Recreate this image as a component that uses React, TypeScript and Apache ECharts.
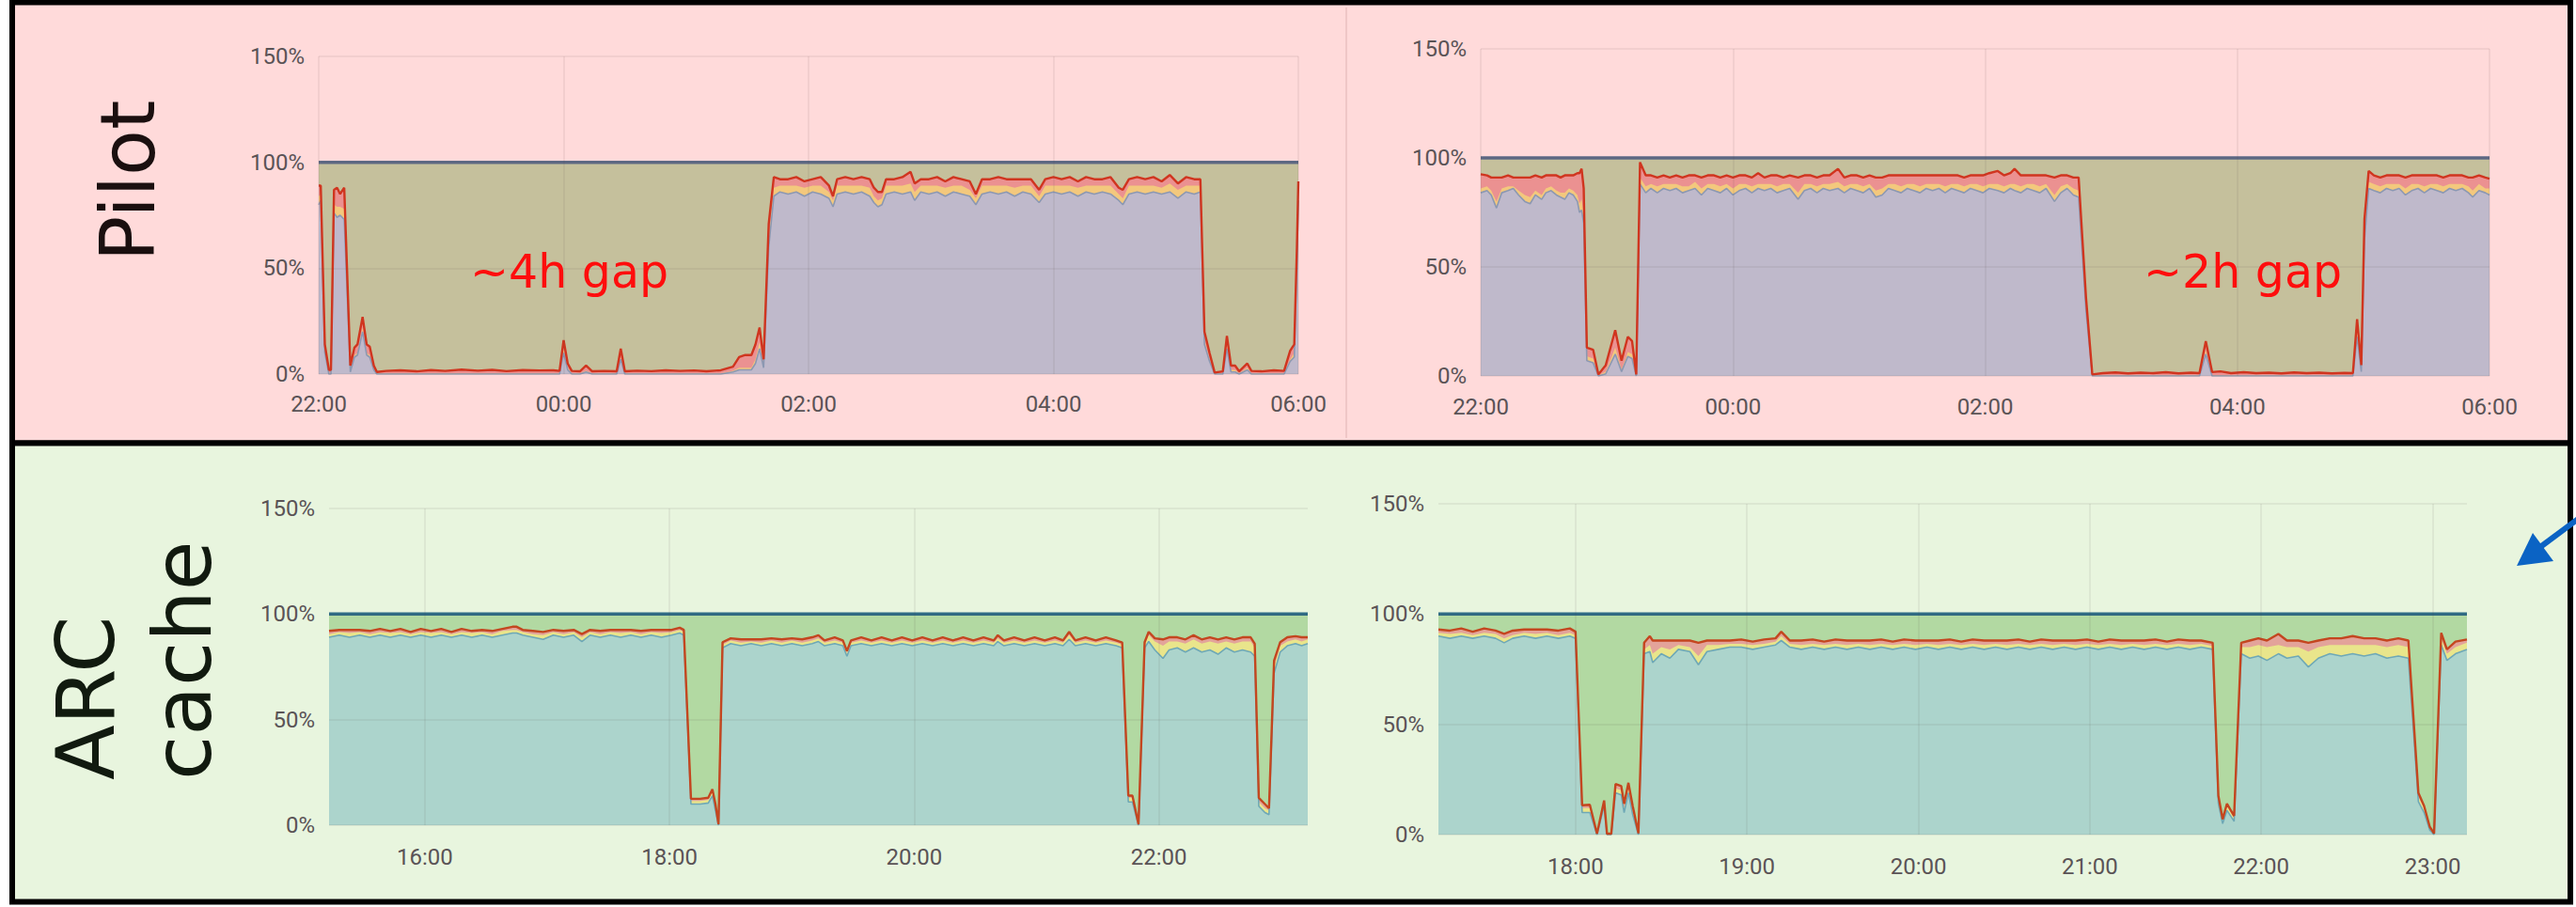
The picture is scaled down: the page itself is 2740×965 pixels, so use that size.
import React, { useEffect, useRef } from 'react';
import * as echarts from 'echarts';

// rows: [minutes after chart start, user %, iowait %, system %]  (idle fills to 100 %)
const pilotNight1Start = '22:00';
const pilotNight1 = [
  [0, 80, 4, 5], [1, 82, 3, 4], [3, 10, 1, 3], [5, 0, 0.5, 1.5], [6, 0, 0.5, 1.5],
  [7.5, 76, 4, 7], [9, 74, 5, 9], [10.5, 75, 4, 6], [12.5, 73, 5, 10], [15.5, 1, 1, 2],
  [17.5, 8, 1, 3.5], [19, 9, 1, 4], [21.5, 20, 2, 5], [23.5, 9, 1, 4], [25, 8, 1, 4],
  [27, 2, 0.5, 1.5], [28.5, 0, 0.3, 0.7], [33, 0, 0.3, 1.2], [40, 0, 0.3, 1.5], [48, 0, 0.3, 1.0],
  [55, 0, 0.3, 1.6], [62, 0, 0.3, 1.2], [70, 0, 0.3, 1.8], [78, 0, 0.3, 1.3], [85, 0, 0.3, 1.7],
  [92, 0, 0.3, 1.1], [100, 0, 0.3, 1.6], [108, 0, 0.3, 1.4], [115, 0, 0.3, 1.5], [118, 0, 0.3, 1.2],
  [120, 10, 2, 4], [122, 2, 1, 2], [124, 0, 0.3, 1.2], [128, 0, 0.3, 1.0], [131, 1, 0.5, 2.5],
  [134, 0, 0.3, 1.0], [140, 0, 0.3, 1.2], [146, 0, 0.3, 1.0], [148, 7, 1, 4], [150, 0, 0.3, 1.0],
  [156, 0, 0.3, 1.3], [163, 0, 0.3, 1.1], [170, 0, 0.3, 1.5], [177, 0, 0.3, 1.2], [184, 0, 0.3, 1.4],
  [190, 0, 0.3, 1.0], [197, 0, 0.3, 1.5], [203, 1, 0.5, 2], [206, 2, 1, 5], [209, 2, 1, 6],
  [212, 2, 1, 6], [214, 5, 2, 7], [216, 12, 3, 7], [218, 3, 1, 3], [220.5, 60, 4, 7],
  [223, 84, 4, 5], [226, 86, 3, 3], [230, 85, 4, 3], [234, 86, 3, 4], [238, 84, 4, 3],
  [242, 86, 3, 3], [246, 85, 4, 4], [250, 83, 3, 3], [252, 79, 3, 2], [254, 85, 4, 3],
  [258, 86, 3, 4], [262, 85, 4, 3], [266, 86, 3, 4], [270, 84, 4, 4], [272, 81, 3, 4],
  [274, 79, 3, 4], [276, 80, 3, 3], [278, 85, 4, 3], [282, 86, 3, 3], [286, 85, 4, 4],
  [290, 86, 4, 5.5], [292, 82, 4, 4], [295, 86, 3, 3], [299, 85, 4, 3], [303, 86, 3, 4],
  [307, 84, 4, 3], [311, 86, 3, 4], [315, 85, 4, 3], [319, 84, 3, 4], [322, 80, 3, 2],
  [325, 85, 4, 3], [329, 86, 3, 3], [333, 85, 4, 4], [337, 86, 3, 3], [341, 84, 4, 4],
  [345, 86, 3, 3], [349, 85, 4, 3], [353, 81, 3, 3], [356, 85, 4, 3], [360, 86, 3, 4],
  [364, 85, 4, 3], [368, 86, 3, 4], [372, 84, 4, 3], [376, 86, 3, 4], [380, 85, 4, 3],
  [384, 86, 3, 3], [388, 85, 4, 4], [392, 82, 3, 3], [394, 80, 3, 4], [397, 85, 4, 3],
  [401, 86, 3, 4], [405, 85, 4, 3], [409, 86, 3, 4], [413, 85, 3, 3], [417, 86, 4, 4],
  [421, 83, 4, 3], [425, 86, 3, 4], [429, 85, 4, 3], [432, 86, 3, 3], [434, 14, 2, 4],
  [436.5, 6, 1, 3], [439, 0, 0.2, 0.5], [443, 0, 0.3, 1.0], [445, 12, 2, 4], [447, 1, 1, 2],
  [449, 1, 1, 2], [451, 0, 0.3, 1.0], [455, 2, 1, 2], [457, 0, 0.3, 1.2], [462, 0, 0.3, 1.0],
  [468, 0, 0.3, 1.5], [473, 0, 0.3, 1.2], [476, 6, 1, 4], [478, 8, 2, 4], [479.3, 50, 4, 6],
  [480, 82, 4, 5],
];

const pilotNight2Start = '22:00';
const pilotNight2 = [
  [0, 84, 2, 6.5], [3, 85, 2, 5], [5, 83, 2, 6], [7.5, 77, 3, 11], [10, 84, 2, 5],
  [13, 85, 2, 5], [15.5, 86, 1, 4], [18, 83, 2, 6], [21, 80, 3, 8], [23.5, 79, 3, 9],
  [26, 83, 2, 7], [29, 81, 2, 8], [31, 84, 2, 6], [33.5, 85, 2, 5], [36, 83, 2, 7],
  [38, 82, 2, 7], [40, 81, 3, 8], [42, 84, 2, 6], [44, 83, 2, 7], [46, 80, 3, 10],
  [47, 75, 4, 14], [48, 76, 5, 14], [49, 70, 4, 12], [50.5, 7, 2, 4], [53.5, 6, 2, 4],
  [56, 0, 0.2, 0.5], [59.5, 1, 1, 3], [64, 10, 3, 8], [67, 2, 1, 4], [70, 9, 2, 7],
  [72, 8, 2, 6], [74, 0, 0.2, 0.5], [75.8, 88, 3, 7], [78.5, 84, 3, 5], [81, 86, 2, 4],
  [84, 84, 3, 4], [87, 86, 2, 4], [90, 85, 3, 3], [93, 86, 2, 4], [96, 84, 3, 4],
  [99, 85, 2, 5], [102, 86, 3, 3], [105, 83, 3, 5], [108, 86, 2, 4], [111, 85, 3, 4],
  [114, 84, 3, 4], [117, 86, 2, 4], [120, 83, 3, 5], [123, 85, 3, 4], [126, 86, 2, 4],
  [129, 84, 3, 4], [132, 86, 2, 5], [135, 85, 3, 3], [138, 86, 2, 4], [141, 84, 3, 5],
  [144, 85, 3, 3], [147, 86, 2, 4], [151, 81, 3, 7], [154, 85, 3, 4], [157, 86, 2, 4],
  [160, 84, 3, 4], [163, 86, 2, 4], [166, 85, 3, 4], [170, 86, 3, 6], [173, 84, 3, 4],
  [176, 86, 2, 4], [179, 85, 3, 4], [182, 84, 3, 4], [185, 86, 2, 4], [188, 82, 3, 6],
  [191, 83, 3, 5], [194, 86, 2, 4], [197, 85, 3, 4], [200, 84, 3, 5], [203, 86, 2, 4],
  [206, 85, 3, 4], [209, 84, 3, 5], [212, 86, 2, 4], [215, 85, 3, 4], [218, 86, 2, 4],
  [221, 84, 3, 5], [224, 86, 2, 4], [227, 85, 3, 4], [230, 84, 3, 4], [233, 86, 2, 4],
  [236, 85, 3, 4], [239, 84, 3, 5], [242, 86, 2, 5], [246, 85, 3, 6], [249, 84, 3, 5],
  [252, 86, 2, 5], [254, 85, 3, 7], [257, 84, 3, 5], [260, 86, 2, 4], [263, 85, 3, 4],
  [266, 84, 3, 5], [269, 86, 2, 4], [273, 80, 3, 8], [276, 84, 3, 5], [279, 86, 2, 4],
  [282, 83, 3, 5], [284.5, 82, 3, 6], [288, 30, 2, 4], [291, 0, 0.2, 0.5], [296, 0, 0.3, 1.0],
  [302, 0, 0.3, 1.3], [308, 0, 0.3, 0.9], [314, 0, 0.3, 1.2], [320, 0, 0.3, 1.0], [326, 0, 0.3, 1.4],
  [332, 0, 0.3, 0.9], [338, 0, 0.3, 1.2], [342, 0, 0.3, 1.0], [345, 10, 2, 4], [348, 0, 0.3, 1.5],
  [352, 0, 0.3, 1.8], [357, 0, 0.3, 1.0], [363, 0, 0.3, 1.4], [369, 0, 0.3, 1.0], [375, 0, 0.3, 1.2],
  [381, 0, 0.3, 0.9], [387, 0, 0.3, 1.3], [393, 0, 0.3, 1.0], [399, 0, 0.3, 1.2], [405, 0, 0.3, 0.9],
  [411, 0, 0.3, 1.1], [415, 0, 0.3, 1.0], [417, 18, 3, 5], [419, 2, 1, 2], [420.5, 62, 4, 6],
  [422.5, 86, 3, 5], [425, 85, 3, 4], [428, 84, 3, 4], [431, 86, 2, 4], [434, 85, 3, 4],
  [437, 86, 2, 4], [440, 83, 3, 5], [443, 85, 3, 4], [446, 86, 2, 4], [449, 84, 3, 5],
  [452, 86, 2, 4], [455, 85, 3, 4], [458, 84, 3, 4], [461, 86, 2, 4], [464, 85, 3, 4],
  [467, 86, 2, 4], [470, 84, 3, 4], [472, 82, 3, 6], [475, 85, 3, 4], [478, 84, 2, 5],
  [480, 83, 3, 4.5],
];

const arcDay1Start = '15:13';
const arcDay1 = [
  [0, 89, 1.5, 1.5], [5, 90, 1.5, 1], [10, 89, 2, 1.5], [15, 90, 1.5, 1], [20, 89, 1.5, 1.5],
  [25, 90, 1.5, 1.5], [30, 89, 2, 1], [35, 90, 1.5, 1.5], [40, 89, 1.5, 1], [45, 90, 1.5, 1.5],
  [50, 89, 2, 1], [55, 90, 1.5, 1.5], [60, 89, 1.5, 1], [65, 90, 1.5, 1.5], [70, 89, 2, 1],
  [75, 90, 1.5, 1], [80, 89, 1.5, 1.5], [85, 90, 2, 1], [90, 91, 1.5, 1.5], [92, 91, 1.5, 1.5],
  [95, 90, 1.5, 1], [100, 89, 1.5, 1.5], [105, 88, 2, 1.5], [110, 90, 1.5, 1], [115, 89, 1.5, 1.5],
  [120, 90, 1.5, 1], [124, 87, 2, 1.5], [128, 90, 1.5, 1], [133, 89, 1.5, 1.5], [138, 90, 1.5, 1],
  [143, 89, 2, 1.5], [148, 90, 1.5, 1], [153, 89, 1.5, 1.5], [158, 90, 1.5, 1], [163, 89, 2, 1.5],
  [168, 90, 1.5, 1], [172, 91, 1.5, 1], [174, 90, 1.5, 1], [177.5, 10, 1.5, 1], [182, 10, 1.5, 1],
  [186, 10.5, 1.5, 1], [188, 14, 2, 1], [189.5, 7, 2, 1], [191, 0, 0.2, 0.3], [193, 84, 1.5, 1.2],
  [197, 86, 1.5, 1], [202, 85, 1.5, 1.5], [207, 86, 1, 1], [212, 85, 1.5, 1.5], [217, 86, 1.5, 1],
  [222, 85, 1.5, 1.5], [227, 86, 1.5, 1], [232, 85, 1.5, 1.5], [237, 86, 1.5, 1.5], [240, 87, 1.5, 1.5],
  [243, 85, 1.5, 1], [248, 86, 1.5, 1.5], [252, 85, 1.5, 1], [254, 80, 1.5, 1], [256, 85, 1.5, 1],
  [261, 86, 1.5, 1.5], [266, 85, 1.5, 1], [271, 86, 1.5, 1.5], [276, 85, 1.5, 1], [281, 86, 1.5, 1.5],
  [286, 85, 1.5, 1], [291, 86, 1.5, 1.5], [296, 85, 1.5, 1], [301, 86, 1.5, 1.5], [306, 85, 1.5, 1],
  [311, 86, 1.5, 1.5], [316, 85, 1.5, 1], [321, 86, 1.5, 1.5], [326, 85, 1.5, 1], [328, 87, 1.5, 1.5],
  [331, 85, 1.5, 1], [336, 86, 1.5, 1.5], [341, 85, 1.5, 1], [346, 86, 1.5, 1.5], [351, 85, 1.5, 1],
  [356, 86, 1.5, 1.5], [360, 85, 1.5, 1], [363, 88, 2, 1.6], [366, 85, 1.5, 1], [371, 86, 1.5, 1.5],
  [376, 85, 1.5, 1], [381, 86, 1.5, 1.5], [386, 85, 1.5, 1], [389, 84, 1.5, 1], [392, 11, 2, 1],
  [394, 11, 2, 1], [397, 0, 0.2, 0.3], [400, 84, 1.5, 1.2], [402, 87, 3, 1.6], [405, 83, 4, 1.5],
  [409, 79, 6, 3], [412, 83, 4, 2], [416, 84, 3, 2], [420, 82, 4, 2], [424, 84, 4, 2],
  [428, 82, 4, 2], [432, 83, 4, 2], [436, 81, 5, 2], [440, 84, 3, 2], [444, 82, 4, 2],
  [448, 83, 4, 2], [452, 82, 5, 2], [454, 80, 4, 2], [456, 9, 2, 2], [459, 6, 2, 2],
  [461, 5, 2, 1], [463.5, 72, 3, 3], [466.5, 82, 3, 1.7], [470, 85, 2, 2], [474, 86, 2, 1.5],
  [477, 85, 2, 2], [480, 86, 2, 1],
];

const arcDay2Start = '17:12';
const arcDay2 = [
  [0, 90, 1.5, 1.5], [4, 89, 2, 1.5], [8, 90, 1.5, 2], [12, 89, 1.5, 1.5], [16, 90, 1.5, 2],
  [20, 89, 2, 1.5], [23, 87, 2, 2], [26, 89, 1.5, 2], [30, 90, 1.5, 1.5], [34, 89, 2, 2],
  [38, 90, 1.5, 1.5], [42, 89, 1.5, 2], [46, 90, 1.5, 2], [48, 89, 1.5, 1.5], [50.3, 10, 2, 1.3],
  [53, 10, 2, 1.5], [55.5, 0, 0.2, 0.2], [58, 13, 1.5, 1], [59, 0, 0.2, 0.2], [60.5, 0, 0.2, 0.2],
  [62, 19, 2, 2], [64, 18, 2, 2], [65, 10, 2, 2], [66.5, 19, 2, 2.5], [68, 9, 2, 2],
  [70, 0, 0.3, 0.3], [72, 82, 2, 3], [74, 83, 3, 4], [75, 78, 4, 6], [78, 82, 3, 3],
  [81, 80, 4, 4], [84, 84, 2, 2], [88, 83, 2, 3], [91, 77, 4, 6], [94, 83, 3, 2],
  [98, 84, 2, 2], [102, 85, 1.5, 1.5], [106, 85, 1.5, 2], [110, 84, 2, 1.5], [114, 85, 1.5, 2],
  [118, 86, 1.5, 1.5], [120, 88, 2, 2], [123, 85, 1.5, 1.5], [127, 84, 2, 2], [131, 85, 1.5, 2],
  [135, 84, 2, 1.5], [139, 85, 1.5, 2], [143, 84, 2, 2], [147, 85, 1.5, 1.5], [151, 84, 2, 2],
  [155, 85, 1.5, 2], [159, 84, 2, 1.5], [163, 85, 1.5, 2], [167, 84, 2, 2], [171, 85, 1.5, 1.5],
  [175, 84, 2, 2], [179, 85, 1.5, 2], [183, 84, 2, 1.5], [187, 85, 1.5, 2], [191, 84, 2, 2],
  [195, 85, 1.5, 1.5], [199, 84, 2, 2], [203, 85, 1.5, 2], [207, 84, 2, 1.5], [211, 85, 1.5, 2],
  [215, 84, 2, 2], [219, 85, 1.5, 1.5], [223, 84, 2, 2], [227, 85, 1.5, 2], [231, 84, 2, 1.5],
  [235, 85, 1.5, 2], [239, 84, 2, 2], [243, 85, 1.5, 1.5], [247, 84, 2, 2], [251, 85, 1.5, 2],
  [255, 84, 2, 1.5], [259, 85, 1.5, 2], [263, 84, 2, 2], [267, 85, 1.5, 1.5], [271, 84, 1.5, 1.5],
  [273, 14, 2, 1.6], [274.5, 5, 1, 1], [276, 11, 2, 1], [278.5, 6, 1.5, 1], [281, 82, 3, 2],
  [284, 80, 5, 3], [287, 81, 5, 3], [290, 79, 6, 3], [294, 82, 4, 5], [297, 80, 5, 3],
  [301, 81, 4, 3], [304.5, 76, 7, 4], [308, 80, 5, 3], [312, 82, 4, 3], [316, 81, 5, 3],
  [320, 82, 4, 4], [324, 81, 5, 3], [328, 82, 4, 3], [332, 80, 5, 3], [336, 81, 5, 3],
  [339.5, 80, 5, 3], [343, 15, 2, 2], [345, 10, 2, 1], [347, 2, 1, 0.5], [348.5, 0, 0.3, 0.3],
  [351, 86, 3, 2.5], [353, 79, 3, 2], [356, 82, 3, 2.5], [360, 84, 3, 1.5],
];

const pilotTicks = ['22:00', '00:00', '02:00', '04:00', '06:00'];
const arcDay1Ticks = ['16:00', '18:00', '20:00', '22:00'];
const arcDay2Ticks = ['18:00', '19:00', '20:00', '21:00', '22:00', '23:00'];

const pilotTheme = {
  user: '#bfb9cb', userLine: '#8c98b2', iowait: '#f3c87d', system: '#eb9191',
  red: '#d0351f', idle: '#c5c09c', idleLine: '#5e6a86',
};
const arcTheme = {
  user: '#acd4cc', userLine: '#6ea8b6', iowait: '#e9e58b', system: '#e3a39a',
  red: '#c4461f', idle: '#b2d9a2', idleLine: '#2f6d86',
};

const toMin = (s: string) => {
  const [h, m] = s.split(':').map(Number);
  return h * 60 + m;
};
const pad = (n: number) => String(n).padStart(2, '0');
const fmt = (v: number) => {
  const m = Math.round(((v % 1440) + 1440) % 1440);
  return pad(Math.floor(m / 60)) + ':' + pad(m % 60);
};

const panels = [
  { rows: pilotNight1, start: pilotNight1Start, span: 480, ticks: pilotTicks, theme: pilotTheme,
    grid: { left: 339, top: 60, width: 1042, height: 338 }, labelMargin: 20 },
  { rows: pilotNight2, start: pilotNight2Start, span: 480, ticks: pilotTicks, theme: pilotTheme,
    grid: { left: 1575, top: 52, width: 1073, height: 348 }, labelMargin: 21 },
  { rows: arcDay1, start: arcDay1Start, span: 480, ticks: arcDay1Ticks, theme: arcTheme,
    grid: { left: 350, top: 541, width: 1041, height: 337 }, labelMargin: 22 },
  { rows: arcDay2, start: arcDay2Start, span: 360, ticks: arcDay2Ticks, theme: arcTheme,
    grid: { left: 1530, top: 536, width: 1094, height: 352 }, labelMargin: 22 },
];

function buildOption() {
  const grids: any[] = [];
  const xAxes: any[] = [];
  const yAxes: any[] = [];
  const series: any[] = [];
  const labelFont = { color: '#5a5356', fontSize: 24, fontFamily: 'Roboto' };
  panels.forEach((p, k) => {
    const start = toMin(p.start);
    const tickVals = p.ticks.map((t) => {
      let v = toMin(t);
      if (v < start) v += 1440;
      return v;
    });
    grids.push({ ...p.grid, containLabel: false });
    xAxes.push({
      type: 'value', gridIndex: k, min: start, max: start + p.span, z: 5,
      axisLine: { show: false },
      axisTick: { show: false, customValues: tickVals },
      axisLabel: { ...labelFont, customValues: tickVals, margin: p.labelMargin, formatter: (v: number) => fmt(v) },
      splitLine: { show: true, lineStyle: { color: 'rgba(90,70,70,0.10)', width: 1.5 } },
    });
    yAxes.push({
      type: 'value', gridIndex: k, min: 0, max: 150, interval: 50, z: 5,
      axisLine: { show: false }, axisTick: { show: false },
      axisLabel: { ...labelFont, margin: 15, formatter: '{value}%' },
      splitLine: { show: true, lineStyle: { color: 'rgba(90,70,70,0.10)', width: 1.5 } },
    });
    const th = p.theme;
    const x = (r: number[]) => start + r[0];
    // cumulative tops of the stacked layers (user → +iowait → +system → +idle = 100)
    const topUser = p.rows.map((r) => [x(r), r[1]]);
    const topIowait = p.rows.map((r) => [x(r), +(r[1] + r[2]).toFixed(2)]);
    const topSystem = p.rows.map((r) => [x(r), +(r[1] + r[2] + r[3]).toFixed(2)]);
    const topIdle = p.rows.map((r) => [x(r), +(r[1] + r[2] + r[3] + (100 - r[1] - r[2] - r[3])).toFixed(2)]);
    const common = {
      type: 'line', xAxisIndex: k, yAxisIndex: k, symbol: 'none',
      silent: true, emphasis: { disabled: true },
    };
    series.push(
      { ...common, name: 'idle', data: topIdle, z: 2,
        lineStyle: { color: th.idleLine, width: 3.5 }, areaStyle: { color: th.idle, opacity: 1 } },
      { ...common, name: 'system', data: topSystem, z: 2,
        lineStyle: { width: 0, opacity: 0 }, areaStyle: { color: th.system, opacity: 1 } },
      { ...common, name: 'iowait', data: topIowait, z: 2,
        lineStyle: { width: 0, opacity: 0 }, areaStyle: { color: th.iowait, opacity: 1 } },
      { ...common, name: 'user', data: topUser, z: 2,
        lineStyle: { color: th.userLine, width: 1.6 }, areaStyle: { color: th.user, opacity: 1 } },
      { ...common, name: 'system edge', data: topSystem, z: 3,
        lineStyle: { color: th.red, width: 2.4 } },
    );
  });

  const graphic = [
    { type: 'rect', z: -10, shape: { x: 13, y: 2.5, width: 2721, height: 469 },
      style: { fill: '#ffdada', stroke: '#000', lineWidth: 6 } },
    { type: 'rect', z: -10, shape: { x: 13, y: 471.5, width: 2721, height: 488 },
      style: { fill: '#e8f5de', stroke: '#000', lineWidth: 6 } },
    { type: 'line', z: -9, shape: { x1: 1432, y1: 8, x2: 1432, y2: 466 },
      style: { stroke: '#efc6c6', lineWidth: 2 } },
    { type: 'text', z: 100, x: 136, y: 278, rotation: Math.PI / 2,
      style: { text: 'Pilot', font: '80px "DejaVu Sans"', fill: '#1a0f0f', align: 'left', verticalAlign: 'middle' } },
    { type: 'text', z: 100, x: 91, y: 830, rotation: Math.PI / 2,
      style: { text: 'ARC', font: '86px "DejaVu Sans"', fill: '#111a0f', align: 'left', verticalAlign: 'middle' } },
    { type: 'text', z: 100, x: 194, y: 830, rotation: Math.PI / 2,
      style: { text: 'cache', font: '86px "DejaVu Sans"', fill: '#111a0f', align: 'left', verticalAlign: 'middle' } },
    { type: 'text', z: 100, x: 500, y: 289,
      style: { text: '~4h gap', font: '49px "DejaVu Sans"', fill: '#ff0d0d', align: 'left', verticalAlign: 'middle' } },
    { type: 'text', z: 100, x: 2280, y: 289,
      style: { text: '~2h gap', font: '49px "DejaVu Sans"', fill: '#ff0d0d', align: 'left', verticalAlign: 'middle' } },
    { type: 'line', z: 100, shape: { x1: 2745, y1: 550, x2: 2702, y2: 582 },
      style: { stroke: '#0b63c4', lineWidth: 6 } },
    { type: 'polygon', z: 100, shape: { points: [[2677, 602], [2694, 567], [2716, 597]] },
      style: { fill: '#0b63c4' } },
  ];

  return {
    animation: false,
    backgroundColor: '#ffffff',
    grid: grids,
    xAxis: xAxes,
    yAxis: yAxes,
    series,
    graphic: { elements: graphic },
  };
}

export default function App() {
  const ref = useRef<HTMLDivElement>(null);
  useEffect(() => {
    if (!ref.current) return;
    const chart = echarts.init(ref.current, undefined, { renderer: 'svg', width: 2740, height: 965 });
    chart.setOption(buildOption() as any);
    return () => chart.dispose();
  }, []);
  return (
    <div
      ref={ref}
      style={{ position: 'fixed', left: 0, top: 0, width: 2740, height: 965, background: '#fff' }}
    />
  );
}
